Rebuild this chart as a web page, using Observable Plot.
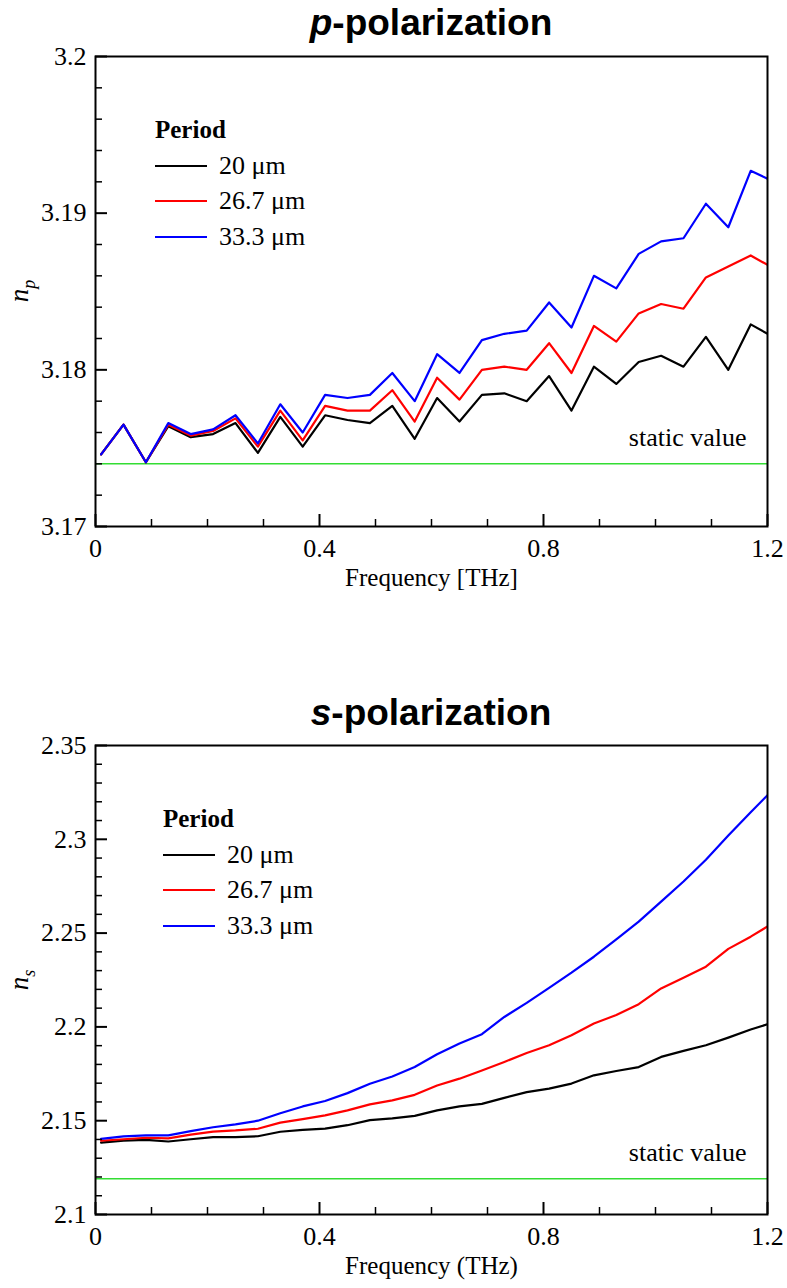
<!DOCTYPE html>
<html>
<head>
<meta charset="utf-8">
<script src="https://cdn.jsdelivr.net/npm/d3@7"></script>
<script src="https://cdn.jsdelivr.net/npm/@observablehq/plot@0.6"></script>
<style>
  body { margin: 0; background: #fff; }
  #wrap { position: relative; width: 787px; height: 1288px; overflow: hidden; }
  .panel { position: absolute; left: 0; }
  .panel text { font-family: "Liberation Serif", "Times New Roman", serif !important; }
  .title { position: absolute; left: 95px; width: 672px; text-align: center;
           font-family: "Liberation Sans", Arial, sans-serif; font-weight: bold; font-size: 37px; line-height: 37px; }
  .ylab { position: absolute; font-family: "Liberation Serif", "Times New Roman", serif; font-style: italic; font-size: 27px;
          transform: translate(-50%, -50%) rotate(-90deg); white-space: nowrap; }
  .ylab sub { font-size: 18px; }
  .legend { position: absolute; font-family: "Liberation Serif", "Times New Roman", serif; font-size: 26px; }
  .legend .head { font-weight: bold; font-size: 25px; height: 35px; line-height: 34px; }
  .legend .row { display: flex; align-items: center; height: 35.5px; }
  .legend svg { margin-right: 12px; }
</style>
</head>
<body>
<div id="wrap"></div>
<script>
// ---------- data ----------
const freq = [0.01, 0.05, 0.09, 0.13, 0.17, 0.21, 0.25, 0.29, 0.33, 0.37, 0.41, 0.45, 0.49, 0.53, 0.57,
              0.61, 0.65, 0.69, 0.73, 0.77, 0.81, 0.85, 0.89, 0.93, 0.97, 1.01, 1.05, 1.09, 1.13, 1.17, 1.2];

// p-polarization
const np20 = [3.1746, 3.1765, 3.1741, 3.1764, 3.1757, 3.1759, 3.1766, 3.1747, 3.1770, 3.1751, 3.1771, 3.1768, 3.1766, 3.1777, 3.1756,
              3.1782, 3.1767, 3.1784, 3.1785, 3.1780, 3.1796, 3.1774, 3.1802, 3.1791, 3.1805, 3.1809, 3.1802, 3.1821, 3.1800, 3.1829, 3.1823];
const np267 = [3.1746, 3.1765, 3.1741, 3.1765, 3.1758, 3.1761, 3.1769, 3.1751, 3.1774, 3.1755, 3.1777, 3.1774, 3.1774, 3.1787, 3.1767,
               3.1795, 3.1781, 3.1800, 3.1802, 3.1800, 3.1817, 3.1798, 3.1828, 3.1818, 3.1836, 3.1842, 3.1839, 3.1859, 3.1866, 3.1873, 3.1867];
const np333 = [3.1746, 3.1765, 3.1741, 3.1766, 3.1759, 3.1762, 3.1771, 3.1753, 3.1778, 3.1760, 3.1784, 3.1782, 3.1784, 3.1798, 3.1780,
               3.1810, 3.1798, 3.1819, 3.1823, 3.1825, 3.1843, 3.1827, 3.1860, 3.1852, 3.1874, 3.1882, 3.1884, 3.1906, 3.1891, 3.1927, 3.1922];
const npStatic = 3.174;

// s-polarization
const ns20 = [2.1383, 2.1394, 2.1398, 2.1389, 2.1401, 2.1412, 2.1412, 2.1417, 2.1441, 2.1451, 2.1458, 2.1476, 2.1503, 2.1512, 2.1526,
              2.1555, 2.1576, 2.1590, 2.1622, 2.1652, 2.1671, 2.1698, 2.1742, 2.1765, 2.1786, 2.1840, 2.1872, 2.1902, 2.1943, 2.1986, 2.2014];
const ns267 = [2.1393, 2.1401, 2.1409, 2.1406, 2.1426, 2.1442, 2.1448, 2.1457, 2.1490, 2.1508, 2.1528, 2.1555, 2.1587, 2.1608, 2.1638,
               2.1688, 2.1724, 2.1768, 2.1813, 2.1861, 2.1902, 2.1956, 2.2018, 2.2063, 2.2121, 2.2205, 2.2262, 2.2321, 2.2416, 2.2481, 2.2535];
const ns333 = [2.1403, 2.1416, 2.1422, 2.1422, 2.1444, 2.1465, 2.1480, 2.1500, 2.1540, 2.1576, 2.1605, 2.1647, 2.1697, 2.1736, 2.1786,
               2.1854, 2.1911, 2.1961, 2.2053, 2.2128, 2.2208, 2.2289, 2.2374, 2.2467, 2.2561, 2.2668, 2.2775, 2.2891, 2.3020, 2.3144, 2.3235];
const nsStatic = 2.119;

const seriesNames = ["20 μm", "26.7 μm", "33.3 μm"];
const seriesColors = ["#000000", "#ff0000", "#0000ff"];
const staticColor = "#33dd33";

const xTicks = [0, 0.4, 0.8, 1.2];
const xTickLabels = ["0", "0.4", "0.8", "1.2"];
const xMinor = [0.1, 0.2, 0.3, 0.5, 0.6, 0.7, 0.9, 1.0, 1.1];

const ypTicks = [3.17, 3.18, 3.19, 3.2];
const ypTickLabels = ["3.17", "3.18", "3.19", "3.2"];
const ypMinor = [3.172, 3.174, 3.176, 3.178, 3.182, 3.184, 3.186, 3.188, 3.192, 3.194, 3.196, 3.198];

const ysTicks = [2.1, 2.15, 2.2, 2.25, 2.3, 2.35];
const ysTickLabels = ["2.1", "2.15", "2.2", "2.25", "2.3", "2.35"];
const ysMinor = [2.11, 2.12, 2.13, 2.14, 2.16, 2.17, 2.18, 2.19, 2.21, 2.22, 2.23, 2.24,
                 2.26, 2.27, 2.28, 2.29, 2.31, 2.32, 2.33, 2.34];

// ---------- drawing ----------
const W = 787, ML = 95, MR = 20;
const PW = W - ML - MR;
const SERIF = "Liberation Serif";
const wrap = document.getElementById("wrap");

function panel({top, height, marginTop, marginBottom, yDomain, series, staticVal,
                yTicks, yTickLabels, yMinor, xLabel, title, ylabHtml, legendPos}) {
  const rows = (vals) => freq.map((f, i) => ({f, v: vals[i]}));
  const fmt = (ticks, labels) => (d) => labels[ticks.findIndex(t => Math.abs(t - d) < 1e-9)];
  const PH = height - marginTop - marginBottom;
  const plot = Plot.plot({
    width: W,
    height,
    marginLeft: ML,
    marginRight: MR,
    marginTop,
    marginBottom,
    x: {domain: [0, 1.2]},
    y: {domain: yDomain},
    style: {fontFamily: SERIF, fontSize: "26px", color: "#000", background: "#fff", overflow: "visible"},
    marks: [
      Plot.ruleY([staticVal], {stroke: staticColor, strokeWidth: 1.5}),
      ...series.map((s, i) => Plot.line(rows(s), {x: "f", y: "v", stroke: seriesColors[i], strokeWidth: 2.2, clip: true})),
      Plot.text(["static value"], {x: () => 1.2, y: () => staticVal, dx: -21, dy: -26, textAnchor: "end", fontSize: 26, fontFamily: SERIF}),
      // ticks (inward)
      Plot.tickY(yTicks, {y: d => d, insetRight: PW - 12, stroke: "#000", strokeWidth: 2}),
      Plot.tickY(yMinor, {y: d => d, insetRight: PW - 7, stroke: "#000", strokeWidth: 1.5}),
      Plot.tickX(xTicks, {x: d => d, insetTop: PH - 12, stroke: "#000", strokeWidth: 2}),
      Plot.tickX(xMinor, {x: d => d, insetTop: PH - 7, stroke: "#000", strokeWidth: 1.5}),
      Plot.frame({stroke: "#000", strokeWidth: 2}),
      Plot.axisY({ticks: yTicks, tickSize: 0, tickPadding: 9, tickFormat: fmt(yTicks, yTickLabels), label: null, fontSize: 26, fontFamily: SERIF}),
      Plot.axisX({ticks: xTicks, tickSize: 0, tickPadding: 12, tickFormat: fmt(xTicks, xTickLabels), label: null, fontSize: 26, fontFamily: SERIF}),
      Plot.text([xLabel], {frameAnchor: "bottom", dy: 59, fontSize: 25, fontFamily: SERIF})
    ]
  });
  plot.classList.add("panel");
  plot.style.top = top + "px";
  wrap.appendChild(plot);

  const t = document.createElement("div");
  t.className = "title";
  t.style.top = (top + 4) + "px";
  t.innerHTML = title;
  wrap.appendChild(t);

  const yl = document.createElement("div");
  yl.className = "ylab";
  yl.style.left = "22px";
  yl.style.top = (top + marginTop + PH / 2) + "px";
  yl.innerHTML = ylabHtml;
  wrap.appendChild(yl);

  const lg = document.createElement("div");
  lg.className = "legend";
  lg.style.left = legendPos[0] + "px";
  lg.style.top = legendPos[1] + "px";
  let html = `<div class="head">Period</div>`;
  seriesNames.forEach((n, i) => {
    html += `<div class="row"><svg width="52" height="4"><line x1="0" x2="52" y1="2" y2="2" stroke="${seriesColors[i]}" stroke-width="2.2"/></svg><span>${n}</span></div>`;
  });
  lg.innerHTML = html;
  wrap.appendChild(lg);
}

panel({
  top: 0, height: 600, marginTop: 56, marginBottom: 74,
  yDomain: [3.17, 3.2], series: [np20, np267, np333], staticVal: npStatic,
  yTicks: ypTicks, yTickLabels: ypTickLabels, yMinor: ypMinor,
  xLabel: "Frequency [THz]",
  title: "<i>p</i>-polarization",
  ylabHtml: "n<sub>p</sub>",
  legendPos: [155, 113]
});

panel({
  top: 690, height: 598, marginTop: 55, marginBottom: 74,
  yDomain: [2.1, 2.35], series: [ns20, ns267, ns333], staticVal: nsStatic,
  yTicks: ysTicks, yTickLabels: ysTickLabels, yMinor: ysMinor,
  xLabel: "Frequency (THz)",
  title: "<i>s</i>-polarization",
  ylabHtml: "n<sub>s</sub>",
  legendPos: [163, 802]
});
</script>
</body>
</html>
